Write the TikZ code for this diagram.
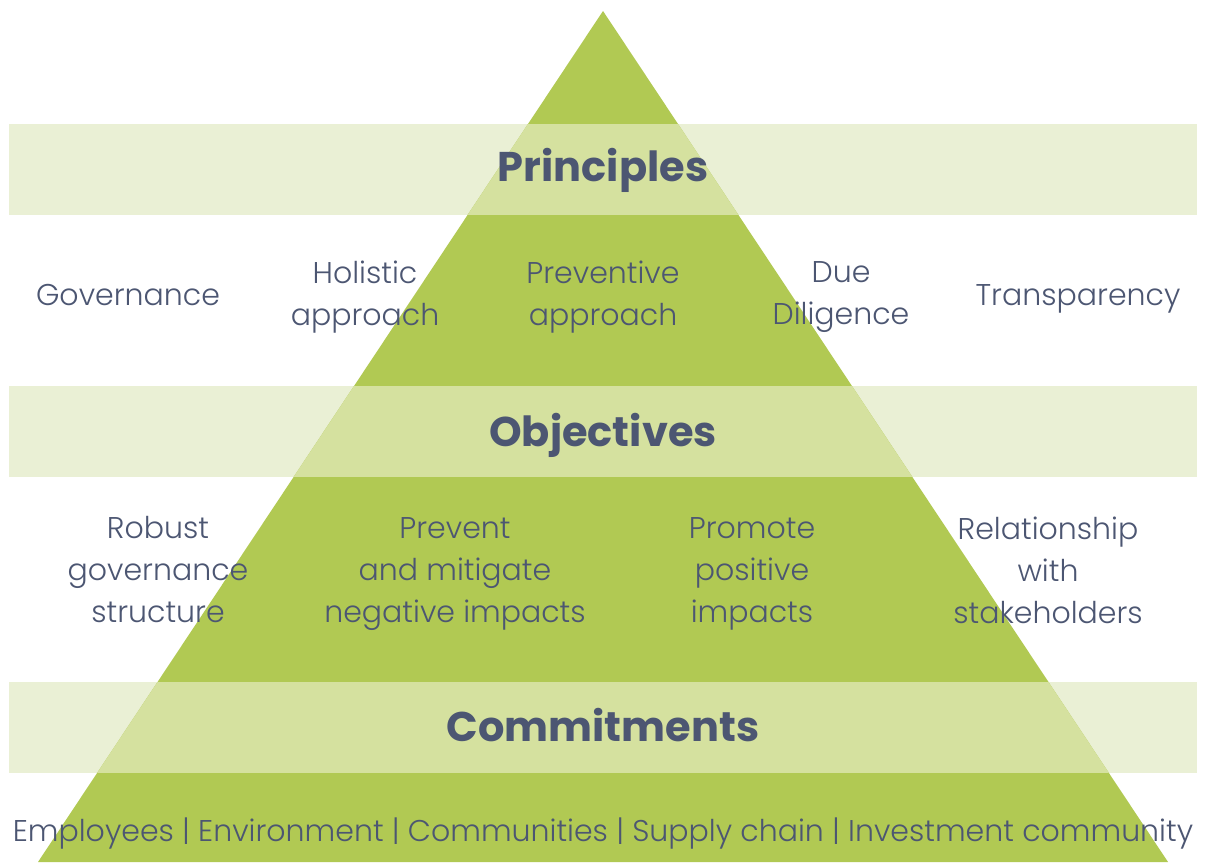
\documentclass[tikz,border=0pt]{standalone}
\usepackage{fontspec}
\setmainfont{Poppins}[UprightFont=* Light, BoldFont=* Bold]
\definecolor{leaf}{HTML}{B1C953}
\definecolor{bandpale}{HTML}{EAF0D5}
\definecolor{bandmid}{HTML}{D5E19F}
\definecolor{slate}{HTML}{4C5672}
\begin{document}
\begin{tikzpicture}[x=1pt,y=-1pt,
  body/.style={text=slate,align=center,inner sep=0pt,font=\fontsize{30}{42}\selectfont},
  head/.style={text=slate,inner sep=0pt,anchor=base,font=\bfseries\fontsize{41.5}{46}\selectfont}]
\useasboundingbox (0,0) rectangle (1206,862);
\fill[white] (0,0) rectangle (1206,862);
% horizontal bands
\foreach \t in {124,386,682}
  \fill[bandpale] (9,\t) rectangle (1197,\t+91);
% pyramid
\fill[leaf] (603,11) -- (1168,862) -- (38,862) -- cycle;
% bands where they cross the pyramid
\begin{scope}
  \clip (603,11) -- (1168,862) -- (38,862) -- cycle;
  \foreach \t in {124,386,682}
    \fill[bandmid] (9,\t) rectangle (1197,\t+91);
\end{scope}
% level titles
\node[head] (principles) at (603,181) {Principles};
\node[head] (objectives) at (603,446) {Objectives};
\node[head] (commitments) at (603,741) {Commitments};
% principles
\node[body] (gov) at (128,295) {Governance};
\node[body] (hol) at (365,297) {Holistic\\approach};
\node[body] (prev) at (603,297) {Preventive\\approach};
\node[body] (due) at (841,297) {Due\\Diligence};
\node[body] (transp) at (1078,299) {Transparency};
% objectives
\node[body] (robust) at (158,570) {Robust\\governance\\structure};
\node[body] (mitig) at (455,574) {Prevent\\and mitigate\\negative impacts};
\node[body] (promo) at (752,574) {Promote\\positive\\impacts};
\node[body] (rel) at (1048,570) {Relationship\\with\\stakeholders};
% commitments
\node[body] (groups) at (603,834) {Employees | Environment | Communities | Supply chain | Investment community};
\end{tikzpicture}
\end{document}
